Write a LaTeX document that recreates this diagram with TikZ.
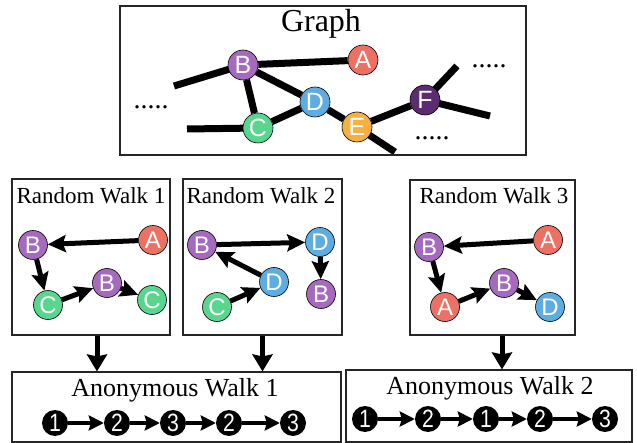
\documentclass[tikz,border=0pt]{standalone}
\usepackage{fontspec}
\setmainfont{Liberation Serif}
\newfontfamily\lsans{Liberation Sans}
\usetikzlibrary{arrows.meta,backgrounds,calc}
\definecolor{cA}{HTML}{EC7063}
\definecolor{cB}{HTML}{A569BD}
\definecolor{cC}{HTML}{58D68D}
\definecolor{cD}{HTML}{5DADE2}
\definecolor{cE}{HTML}{F5B041}
\definecolor{cF}{HTML}{5B2C6F}
\begin{document}
\begin{tikzpicture}[x=1pt,y=-1pt,
  box/.style 2 args={draw=black!85, line width=1.1pt, minimum width=#1, minimum height=#2, inner sep=0pt},
  gnode/.style={circle, draw=black, line width=0.6pt, fill=#1, minimum size=30pt, inner sep=0pt, text=white, font=\lsans\fontsize{25}{25}\selectfont},
  rnode/.style={circle, draw=black, line width=0.6pt, fill=#1, minimum size=29pt, inner sep=0pt, text=white, font=\lsans\fontsize{24}{24}\selectfont},
  anode/.style={circle, fill=black, minimum size=26pt, inner sep=0pt, text=white, font=\lsans\fontsize{25}{25}\selectfont},
  gedge/.style={line width=7pt},
  warrow/.style={line width=5pt, -{Stealth[length=18pt,width=17pt,inset=3pt]}},
  aarrow/.style={line width=4pt, -{Stealth[length=15pt,width=15pt,inset=2pt]}},
  varrow/.style={line width=5pt, -{Stealth[length=17pt,width=20pt,inset=2pt]}},
  title/.style={font=\fontsize{23}{23}\selectfont, anchor=base, inner sep=0pt},
  dots/.style={font=\fontsize{28}{28}\selectfont, inner sep=0pt}
]
\useasboundingbox (0,0) rectangle (637,443);
% boxes
\node[box={406pt}{149pt}] (gbox) at (323,80.5) {};
\node[box={158pt}{156pt}] (rw1) at (91,257) {};
\node[box={159pt}{156pt}] (rw2) at (262.5,257) {};
\node[box={165pt}{155pt}] (rw3) at (492.5,257.5) {};
\node[box={329pt}{70pt}] (aw1) at (176.5,407) {};
\node[box={286pt}{72pt}] (aw2) at (489,406) {};
% titles
\node[title, font=\fontsize{32}{32}\selectfont] (tg) at (321,32) {Graph};
\node[title] (t1) at (91,204) {Random Walk 1};
\node[title] (t2) at (261,204) {Random Walk 2};
\node[title] (t3) at (494,204) {Random Walk 3};
\node[title, font=\fontsize{26}{26}\selectfont] (ta1) at (175,396) {Anonymous Walk 1};
\node[title, font=\fontsize{26}{26}\selectfont] (ta2) at (490,394) {Anonymous Walk 2};
% graph
\node[gnode=cA] (gA) at (363,60) {A};
\node[gnode=cB] (gB) at (243,65) {B};
\node[gnode=cC] (gC) at (258,128) {C};
\node[gnode=cD] (gD) at (315,102) {D};
\node[gnode=cE] (gE) at (357,127) {E};
\node[gnode=cF] (gF) at (425,100) {F};
\coordinate (eB) at (174,86);
\coordinate (eC) at (187,129);
\coordinate (eE) at (395,152);
\coordinate (eF1) at (457,66);
\coordinate (eF2) at (490,116);
\begin{scope}[on background layer]
\draw[gedge] (gB) -- (gA);
\draw[gedge] (gB) -- (gC);
\draw[gedge] (gB) -- (gD);
\draw[gedge] (gC) -- (gD);
\draw[gedge] (gD) -- (gE);
\draw[gedge] (gE) -- (gF);
\draw[gedge] (gB.center) -- (eB);
\draw[gedge] (gC.center) -- (eC);
\draw[gedge] (gE.center) -- (eE);
\draw[gedge] (gF.center) -- (eF1);
\draw[gedge] (gF.center) -- (eF2);
\end{scope}
\node[dots] (d1) at (151,107) {.....};
\node[dots] (d2) at (489,66) {.....};
\node[dots] (d3) at (432,138) {.....};
% random walk 1
\node[rnode=cB] (r1B) at (33,245) {B};
\node[rnode=cA] (r1A) at (153,240) {A};
\node[rnode=cC] (r1C) at (48,305) {C};
\node[rnode=cB] (r1B2) at (107,283) {B};
\node[rnode=cC] (r1C2) at (152,300) {C};
\draw[warrow] (r1A) -- (r1B);
\draw[warrow] (r1B) -- (r1C);
\draw[warrow] (r1C) -- (r1B2);
\draw[warrow] (r1B2) -- (r1C2);
% random walk 2
\node[rnode=cB] (r2B) at (202,245) {B};
\node[rnode=cD] (r2D) at (320,242) {D};
\node[rnode=cD] (r2D2) at (274,282) {D};
\node[rnode=cC] (r2C) at (217,307) {C};
\node[rnode=cB] (r2B2) at (321,294) {B};
\draw[warrow] (r2B) -- (r2D);
\draw[warrow] (r2D) -- (r2B2);
\draw[warrow] (r2C) -- (r2D2);
\draw[warrow] (r2D2) -- (r2B);
% random walk 3
\node[rnode=cB] (r3B) at (429,247) {B};
\node[rnode=cA] (r3A) at (548,240) {A};
\node[rnode=cA] (r3A2) at (445,307) {A};
\node[rnode=cB] (r3B2) at (504,283) {B};
\node[rnode=cD] (r3D) at (550,307) {D};
\draw[warrow] (r3A) -- (r3B);
\draw[warrow] (r3B) -- (r3A2);
\draw[warrow] (r3A2) -- (r3B2);
\draw[warrow] (r3B2) -- (r3D);
% vertical arrows
\draw[varrow] ([xshift=6pt]rw1.south) -- ([xshift=6pt]rw1.south |- aw1.north);
\draw[varrow] (rw2.south) -- (rw2.south |- aw1.north);
\draw[varrow] ([xshift=9.5pt]rw3.south) -- ([xshift=9.5pt]rw3.south |- aw2.north);
% anonymous walk 1
\node[anode] (a11) at (55,423) {\scalebox{0.85}[1]{1}};
\node[anode] (a12) at (117,423) {\scalebox{0.85}[1]{2}};
\node[anode] (a13) at (173,423) {\scalebox{0.85}[1]{3}};
\node[anode] (a14) at (229,423) {\scalebox{0.85}[1]{2}};
\node[anode] (a15) at (293,423) {\scalebox{0.85}[1]{3}};
\draw[aarrow] (a11) -- (a12);
\draw[aarrow] (a12) -- (a13);
\draw[aarrow] (a13) -- (a14);
\draw[aarrow] (a14) -- (a15);
% anonymous walk 2
\node[anode] (a21) at (365,419) {\scalebox{0.85}[1]{1}};
\node[anode] (a22) at (428,419) {\scalebox{0.85}[1]{2}};
\node[anode] (a23) at (486,419) {\scalebox{0.85}[1]{1}};
\node[anode] (a24) at (540,419) {\scalebox{0.85}[1]{2}};
\node[anode] (a25) at (605,419) {\scalebox{0.85}[1]{3}};
\draw[aarrow] (a21) -- (a22);
\draw[aarrow] (a22) -- (a23);
\draw[aarrow] (a23) -- (a24);
\draw[aarrow] (a24) -- (a25);
\end{tikzpicture}
\end{document}
